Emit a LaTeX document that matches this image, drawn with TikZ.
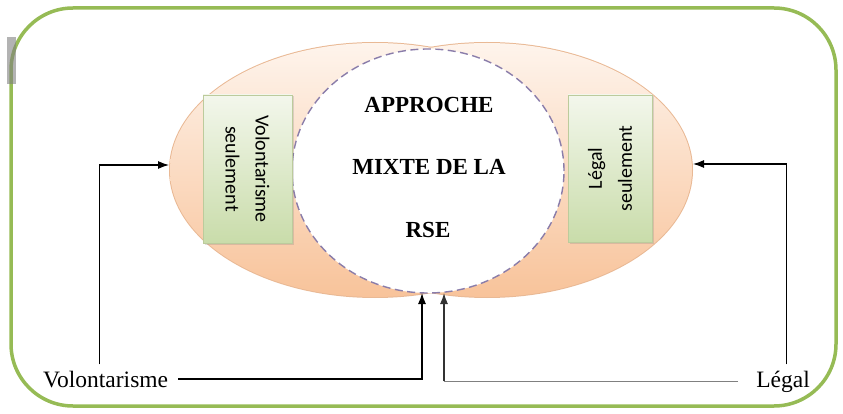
\documentclass[tikz,border=0pt]{standalone}
\usepackage{fontspec}
\setmainfont{Liberation Serif}
\newfontfamily\boxfont{Carlito}
\usepackage{tikz}
\usetikzlibrary{positioning}
\usetikzlibrary{arrows.meta}
\usetikzlibrary{shapes.geometric}
\usetikzlibrary{shadows}

\definecolor{frame}{HTML}{96BB55}
\definecolor{lobeline}{HTML}{E9B995}
\definecolor{lobetop}{HTML}{FEF4EC}
\definecolor{lobebot}{HTML}{F8C39A}
\definecolor{dashc}{HTML}{8A7DAA}
\definecolor{boxtop}{HTML}{F3F7EC}
\definecolor{boxbot}{HTML}{C9DCAA}
\definecolor{boxline}{HTML}{BCCB9C}

\tikzset{
  lobe/.style={ellipse, minimum width=410pt, minimum height=254pt, inner sep=0pt},
  greenbox/.style={draw=boxline, top color=boxtop, bottom color=boxbot, line width=0.8pt,
    drop shadow={opacity=0.25, shadow xshift=1.5pt, shadow yshift=-1.5pt},
    align=center, font=\boxfont\fontsize{20}{30}\selectfont, inner sep=0pt},
  title/.style={font=\fontsize{23}{28}\selectfont\bfseries, anchor=base},
  lbl/.style={font=\fontsize{23.5}{28}\selectfont, inner ysep=6pt},
  arr/.style={line width=1.2pt, -{Latex[length=11pt,width=8pt]}}
}

\begin{document}
\begin{tikzpicture}[x=1pt,y=-1pt]
\useasboundingbox (0,0) rectangle (843,414);
% frame
\draw[frame, line width=3.5pt, rounded corners=62pt] (11,8) rectangle (836,406);
\fill[gray, opacity=0.6] (7,37) rectangle (16,84);
% the two lobes
\node[lobe, draw=lobeline, line width=2pt](lell) at (375,170) {};
\node[lobe, draw=lobeline, line width=2pt](rell) at (487,170) {};
\shade[top color=lobetop, bottom color=lobebot] (lell.center) ellipse [x radius=205, y radius=127];
\shade[top color=lobetop, bottom color=lobebot] (rell.center) ellipse [x radius=205, y radius=127];
% middle
\node[ellipse, draw=dashc, fill=white, dashed, dash pattern=on 8pt off 4.5pt, line width=1.4pt,
  minimum width=272pt, minimum height=244pt](mid) at (428,171) {};
\node[title](t1) at (429,113) {APPROCHE};
\node[title](t2) at (429,175) {MIXTE DE LA};
\node[title](t3) at (428,237) {RSE};
\coordinate (notchl) at (422,293);
\coordinate (notchr) at (444,293);
% boxes
\node[greenbox, rotate=-90, minimum width=148pt, minimum height=89pt](vbox) at (247.5,169) {Volontarisme\\seulement};
\node[greenbox, rotate=90, minimum width=147pt, minimum height=84pt](lbox) at (610,168.5) {Légal\\seulement};
% labels
\node[lbl, anchor=base west, inner xsep=0pt](vol) at (43,387) {Volontarisme};
\node[lbl, anchor=base east, inner xsep=0pt](leg) at (810,387) {Légal};
\coordinate (cornr) at (leg.west -| notchr);
% arrows
\draw[arr] ([xshift=-6.5pt]vol.north) |- ([yshift=5pt]lell.west);
\draw[arr] ([xshift=3.5pt]leg.north) |- ([yshift=6pt]rell.east);
\draw[arr] ([xshift=10pt]vol.east) -| (notchl);
\draw[line width=1.2pt, black!50] ([xshift=-18pt]leg.west) -- (cornr);
\draw[arr, black!80] (cornr) -- (notchr);
\end{tikzpicture}
\end{document}
